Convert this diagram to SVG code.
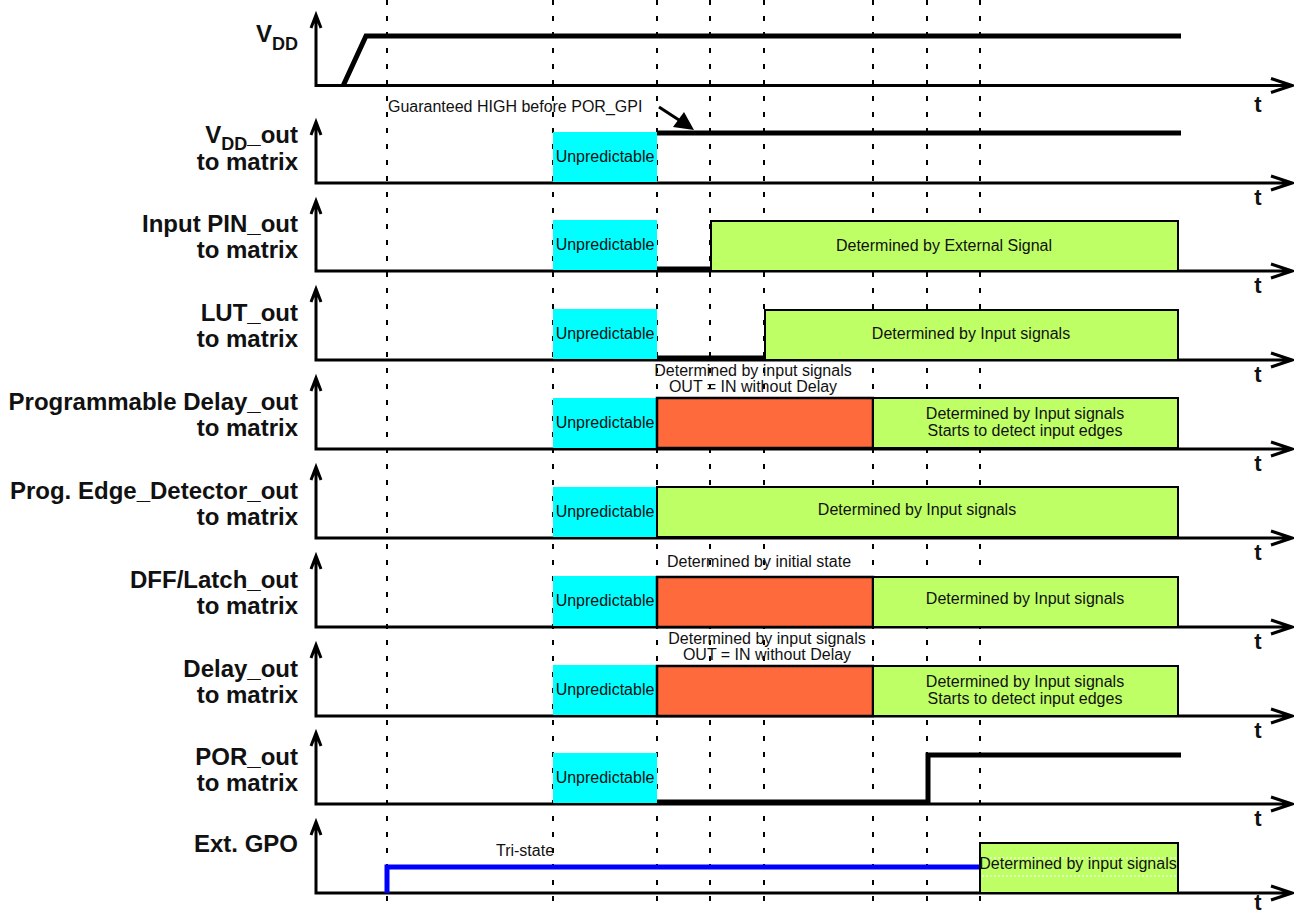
<svg xmlns="http://www.w3.org/2000/svg" width="1294" height="916" viewBox="0 0 1294 916">
<style>
text{font-family:"Liberation Sans",Arial,Helvetica,sans-serif;fill:#111}
.lbl{font-size:24px;font-weight:bold;text-anchor:end}
.t{font-size:22px;font-weight:bold;text-anchor:middle}
.s{font-size:16px;text-anchor:middle}
.ax{fill:none;stroke:#000;stroke-width:3}
.grid{stroke:#000;stroke-width:2;stroke-dasharray:5 11}
.sig{fill:none;stroke:#000;stroke-width:5}
.cy{fill:#00FFFF}
.gr{fill:#BFFF66;stroke:#000;stroke-width:2}
.or{fill:#FF6A3D;stroke:#000;stroke-width:2.5}
</style>
<rect width="1294" height="916" fill="#fff"/>
<g id="grid">
<line class="grid" x1="387" y1="0" x2="387" y2="905"/>
<line class="grid" x1="553" y1="0" x2="553" y2="905"/>
<line class="grid" x1="657" y1="0" x2="657" y2="905"/>
<line class="grid" x1="710" y1="0" x2="710" y2="905"/>
<line class="grid" x1="764" y1="0" x2="764" y2="905"/>
<line class="grid" x1="873" y1="0" x2="873" y2="905"/>
<line class="grid" x1="927" y1="0" x2="927" y2="905"/>
<line class="grid" x1="980" y1="0" x2="980" y2="905"/>
</g>

<g id="row-vdd">
<text class="lbl" x="298" y="42">V<tspan font-size="18" dy="8">DD</tspan></text>
<path class="ax" d="M316,15 V85.5 H1292 M311,28 L316,15 L321,28 M1271,78.5 L1292,85.5 L1271,92.5"/>
<text class="t" x="1258" y="112">t</text>
<path class="sig" d="M343,86 L366,36 H1181"/>
</g>

<g id="row-vddout">
<text class="lbl" x="298" y="143">V<tspan font-size="18" dy="7">DD</tspan><tspan dy="-7">_out</tspan></text>
<text class="lbl" x="298" y="170">to matrix</text>
<path class="ax" d="M316,122 V183 H1292 M311,135 L316,122 L321,135 M1271,176 L1292,183 L1271,190"/>
<text class="t" x="1258" y="205">t</text>
<rect class="cy" x="553" y="132" width="104" height="50"/>
<text class="s" x="605" y="162">Unpredictable</text>
<path class="sig" d="M657,133 H1181"/>
<text x="388" y="112" font-size="16">Guaranteed HIGH before POR_GPI</text>
<line x1="659" y1="107" x2="682" y2="122" stroke="#000" stroke-width="3"/>
<path d="M694,130 L673,127 L684,112 Z" fill="#000"/>
</g>

<g id="row-input">
<text class="lbl" x="298" y="232">Input PIN_out</text>
<text class="lbl" x="298" y="258">to matrix</text>
<path class="ax" d="M316,201 V271 H1292 M311,214 L316,201 L321,214 M1271,264 L1292,271 L1271,278"/>
<text class="t" x="1258" y="293">t</text>
<rect class="cy" x="553" y="220" width="104" height="50"/>
<text class="s" x="605" y="250">Unpredictable</text>
<path class="sig" d="M657,269 H711"/>
<rect class="gr" x="711" y="221" width="467" height="50"/>
<text class="s" x="944" y="251">Determined by External Signal</text>
</g>

<g id="row-lut">
<text class="lbl" x="298" y="321">LUT_out</text>
<text class="lbl" x="298" y="347">to matrix</text>
<path class="ax" d="M316,289 V360 H1292 M311,302 L316,289 L321,302 M1271,353 L1292,360 L1271,367"/>
<text class="t" x="1258" y="382">t</text>
<rect class="cy" x="553" y="309" width="104" height="50"/>
<text class="s" x="605" y="339">Unpredictable</text>
<path class="sig" d="M657,358 H765"/>
<rect class="gr" x="765" y="310" width="413" height="50"/>
<text class="s" x="971" y="339">Determined by Input signals</text>
</g>

<g id="row-pdly">
<text class="lbl" x="298" y="410">Programmable Delay_out</text>
<text class="lbl" x="298" y="436">to matrix</text>
<path class="ax" d="M316,378 V449 H1292 M311,391 L316,378 L321,391 M1271,442 L1292,449 L1271,456"/>
<text class="t" x="1258" y="471">t</text>
<rect class="cy" x="553" y="398" width="104" height="50"/>
<text class="s" x="605" y="428">Unpredictable</text>
<rect class="or" x="657" y="398" width="216" height="50"/>
<rect class="gr" x="873" y="398" width="305" height="50"/>
<text class="s" x="753" y="376">Determined by input signals</text>
<text class="s" x="753" y="392">OUT = IN without Delay</text>
<text class="s" x="1025" y="419">Determined by Input signals</text>
<text class="s" x="1025" y="436">Starts to detect input edges</text>
</g>

<g id="row-edge">
<text class="lbl" x="298" y="499">Prog. Edge_Detector_out</text>
<text class="lbl" x="298" y="525">to matrix</text>
<path class="ax" d="M316,467 V538 H1292 M311,480 L316,467 L321,480 M1271,531 L1292,538 L1271,545"/>
<text class="t" x="1258" y="560">t</text>
<rect class="cy" x="553" y="487" width="104" height="50"/>
<text class="s" x="605" y="517">Unpredictable</text>
<rect class="gr" x="657" y="487" width="521" height="50"/>
<text class="s" x="917" y="515">Determined by Input signals</text>
</g>

<g id="row-dff">
<text class="lbl" x="298" y="588">DFF/Latch_out</text>
<text class="lbl" x="298" y="614">to matrix</text>
<path class="ax" d="M316,556 V627 H1292 M311,569 L316,556 L321,569 M1271,620 L1292,627 L1271,634"/>
<text class="t" x="1258" y="649">t</text>
<rect class="cy" x="553" y="576" width="104" height="50"/>
<text class="s" x="605" y="606">Unpredictable</text>
<rect class="or" x="657" y="577" width="216" height="50"/>
<rect class="gr" x="873" y="577" width="305" height="50"/>
<text class="s" x="759" y="567">Determined by initial state</text>
<text class="s" x="1025" y="604">Determined by Input signals</text>
</g>

<g id="row-delay">
<text class="lbl" x="298" y="677">Delay_out</text>
<text class="lbl" x="298" y="703">to matrix</text>
<path class="ax" d="M316,645 V716 H1292 M311,658 L316,645 L321,658 M1271,709 L1292,716 L1271,723"/>
<text class="t" x="1258" y="738">t</text>
<rect class="cy" x="553" y="665" width="104" height="50"/>
<text class="s" x="605" y="695">Unpredictable</text>
<rect class="or" x="657" y="666" width="216" height="50"/>
<rect class="gr" x="873" y="666" width="305" height="50"/>
<text class="s" x="767" y="644">Determined by input signals</text>
<text class="s" x="767" y="660">OUT = IN without Delay</text>
<text class="s" x="1025" y="687">Determined by Input signals</text>
<text class="s" x="1025" y="704">Starts to detect input edges</text>
</g>

<g id="row-por">
<text class="lbl" x="298" y="765">POR_out</text>
<text class="lbl" x="298" y="791">to matrix</text>
<path class="ax" d="M316,733 V804 H1292 M311,746 L316,733 L321,746 M1271,797 L1292,804 L1271,811"/>
<text class="t" x="1258" y="826">t</text>
<rect class="cy" x="553" y="753" width="104" height="50"/>
<text class="s" x="605" y="783">Unpredictable</text>
<path class="sig" d="M657,802 H928 V755 H1181"/>
</g>

<g id="row-gpo">
<text class="lbl" x="298" y="852">Ext. GPO</text>
<path class="ax" d="M316,822 V893 H1292 M311,835 L316,822 L321,835 M1271,886 L1292,893 L1271,900"/>
<text class="t" x="1258" y="910">t</text>
<path d="M387,893 V867 H980" fill="none" stroke="#0000FF" stroke-width="5"/>
<text class="s" x="525" y="856">Tri-state</text>
<rect class="gr" x="980" y="843" width="198" height="50"/>
<line x1="982" y1="858" x2="1176" y2="858" stroke="#fff" stroke-width="1" stroke-dasharray="2 2"/>
<line x1="982" y1="876" x2="1176" y2="876" stroke="#fff" stroke-width="1" stroke-dasharray="2 2"/>
<text class="s" x="1078" y="869">Determined by input signals</text>
</g>
</svg>
